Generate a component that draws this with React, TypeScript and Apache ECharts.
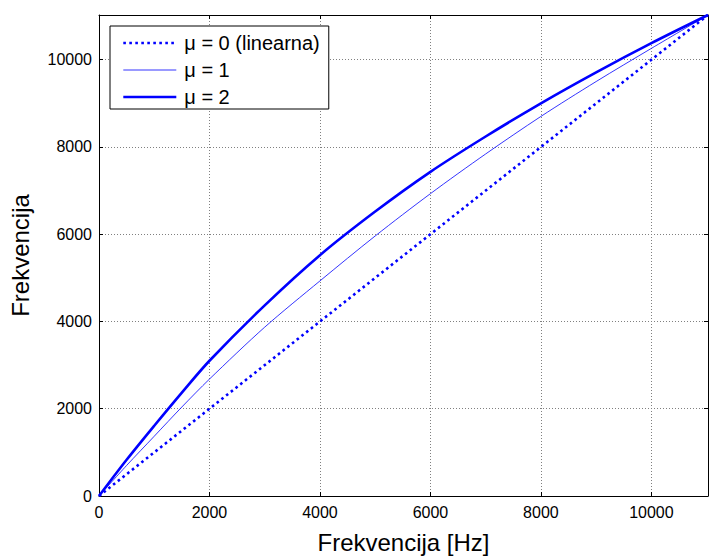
import React, { useEffect, useRef } from "react";
import * as echarts from "echarts";

// frequency axis samples (Hz)
const freqHz = [0, 500, 1000, 1500, 2000, 3000, 4000, 5000, 6000, 7000, 8000, 9000, 10000, 11025];
// warped frequency for mu = 1
const mu1Values = [0, 700, 1370, 2040, 2680, 3870, 4930, 5960, 6930, 7840, 8700, 9500, 10260, 11025];
// warped frequency for mu = 2
const mu2Values = [0, 830, 1610, 2370, 3100, 4370, 5520, 6520, 7430, 8240, 9000, 9710, 10380, 11025];
// linear (mu = 0)
const linearX = [0, 11025];
const linearY = [0, 11025];

const seriesNames = ["\u03bc = 0 (linearna)", "\u03bc = 1", "\u03bc = 2"];
const tickValues = [0, 2000, 4000, 6000, 8000, 10000];
const axisMax = 11025;
const xTitle = "Frekvencija [Hz]";
const yTitle = "Frekvencija";

const FONT = "'Liberation Sans', Arial, Helvetica, sans-serif";
const BLUE = "#0000ff";

function pairs(xs: number[], ys: number[]) {
  return xs.map((x, i) => [x, ys[i]]);
}

const tickFmt = (v: number) => (tickValues.indexOf(v) >= 0 ? String(v) : "");

export default function App() {
  const ref = useRef<HTMLDivElement>(null);
  useEffect(() => {
    document.body.style.margin = "0";
    if (!ref.current) return;
    const chart = echarts.init(ref.current, undefined, { renderer: "svg" });
    const dotted = { width: 2.6, type: [2.6, 3.4] as any, cap: "butt" as any };
    const axisCommon = {
      type: "value" as const,
      min: 0,
      max: axisMax,
      interval: 2000,
      axisLine: { show: true, onZero: false, lineStyle: { color: "#000", width: 1 } },
      axisTick: { show: true, inside: true, length: 4, lineStyle: { color: "#000" } },
    };
    const hidden = { opacity: 0, borderWidth: 0 };
    chart.setOption({
      animation: false,
      backgroundColor: "#fff",
      textStyle: { fontFamily: FONT, color: "#000" },
      grid: { left: 98.7, top: 15, width: 617, height: 484, containLabel: false },
      legend: {
        orient: "vertical",
        left: 110,
        top: 26,
        padding: [7, 9, 2, 12],
        itemGap: 7,
        itemWidth: 53,
        itemHeight: 16,
        backgroundColor: "#fff",
        borderColor: "#000",
        borderWidth: 1,
        borderRadius: 0,
        itemStyle: hidden,
        textStyle: { fontFamily: FONT, fontSize: 20, lineHeight: 16, color: "#000", padding: [0, 0, 0, 3] },
        data: [
          { name: seriesNames[0], itemStyle: hidden, lineStyle: { color: BLUE, opacity: 1, ...dotted } },
          { name: seriesNames[1], itemStyle: hidden, lineStyle: { color: BLUE, opacity: 1, width: 0.8, type: "solid" } },
          { name: seriesNames[2], itemStyle: hidden, lineStyle: { color: BLUE, opacity: 1, width: 2.6, type: "solid" } },
        ],
      },
      xAxis: [
        {
          ...axisCommon,
          position: "bottom",
          name: xTitle,
          nameLocation: "middle",
          nameGap: 34,
          nameTextStyle: { fontFamily: FONT, fontSize: 24, color: "#000" },
          axisLabel: { show: true, fontFamily: FONT, fontSize: 16, color: "#000", margin: 8, formatter: tickFmt },
          splitLine: { show: true, lineStyle: { color: "#808080", width: 1, type: [1, 2] } },
        },
        {
          ...axisCommon,
          position: "top",
          axisLabel: { show: false },
          splitLine: { show: false },
        },
      ],
      yAxis: [
        {
          ...axisCommon,
          position: "left",
          name: yTitle,
          nameLocation: "middle",
          nameGap: 67,
          nameTextStyle: { fontFamily: FONT, fontSize: 24, color: "#000" },
          axisLabel: { show: true, fontFamily: FONT, fontSize: 16, color: "#000", margin: 7, formatter: tickFmt },
          splitLine: { show: true, lineStyle: { color: "#808080", width: 1, type: [1, 2] } },
        },
        {
          ...axisCommon,
          position: "right",
          axisLabel: { show: false },
          splitLine: { show: false },
        },
      ],
      series: [
        {
          name: seriesNames[0],
          type: "line",
          symbol: "none",
          data: pairs(linearX, linearY),
          lineStyle: { color: BLUE, ...dotted },
          itemStyle: { color: BLUE },
          z: 3,
        },
        {
          name: seriesNames[1],
          type: "line",
          symbol: "none",
          smooth: 0.3,
          data: pairs(freqHz, mu1Values),
          lineStyle: { color: BLUE, width: 0.8 },
          itemStyle: { color: BLUE },
          z: 3,
        },
        {
          name: seriesNames[2],
          type: "line",
          symbol: "none",
          smooth: 0.3,
          data: pairs(freqHz, mu2Values),
          lineStyle: { color: BLUE, width: 2.6 },
          itemStyle: { color: BLUE },
          z: 3,
        },
      ],
    });
    return () => chart.dispose();
  }, []);
  return <div ref={ref} style={{ width: 711, height: 559 }} />;
}
